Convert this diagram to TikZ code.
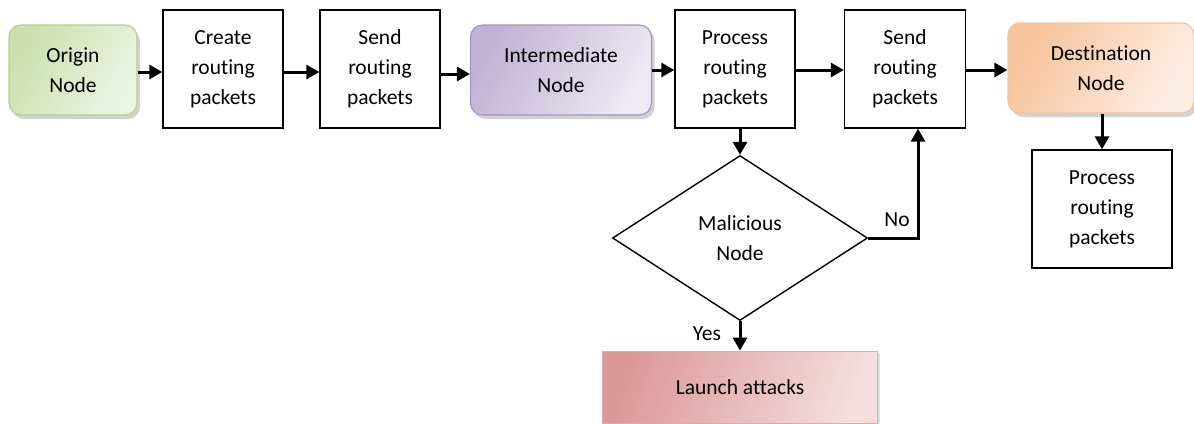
\documentclass[tikz,border=0pt]{standalone}
\usepackage{fontspec}
\setmainfont{Carlito}[Ligatures=NoCommon]
\usetikzlibrary{arrows.meta,shapes.geometric,shadows}
\begin{document}
\begin{tikzpicture}[x=1pt,y=-1pt,
  every node/.style={font=\fontsize{21.5}{30}\selectfont, align=center, inner sep=0pt},
  box/.style={draw=black, line width=1.4pt, minimum width=120pt, minimum height=118pt},
  rbox/.style={rounded corners=12pt, line width=1.2pt, minimum height=90pt,
    drop shadow={shadow xshift=3pt, shadow yshift=-4pt, fill=black!35, opacity=0.5}},
  arr/.style={line width=3pt, -{Triangle[length=13pt,width=14pt]}},
  lbl/.style={font=\fontsize{21.5}{24}\selectfont}]
\useasboundingbox (0,0) rectangle (1194,423);
\node[rbox, minimum width=128pt, draw={rgb,255:red,182;green,206;blue,146},
  left color={rgb,255:red,204;green,224;blue,172}, right color={rgb,255:red,236;green,244;blue,228}, shading angle=60]
  (orig) at (73,70) {Origin\\Node};
\node[box] (create) at (223,69) {Create\\routing\\packets};
\node[box] (send1) at (380,69) {Send\\routing\\packets};
\node[rbox, minimum width=181pt, draw={rgb,255:red,166;green,148;blue,194},
  left color={rgb,255:red,192;green,178;blue,212}, right color={rgb,255:red,238;green,233;blue,243}, shading angle=60]
  (inter) at (561,70) {Intermediate\\Node};
\node[box] (proc) at (735,69) {Process\\routing\\packets};
\node[box, minimum width=121pt] (send2) at (905,69) {Send\\routing\\packets};
\node[rbox, minimum width=186pt, draw={rgb,255:red,242;green,196;blue,160},
  left color={rgb,255:red,248;green,196;blue,156}, right color={rgb,255:red,253;green,238;blue,228}, shading angle=60]
  (dest) at (1101,68) {Destination\\Node};
\node[box, minimum width=140pt] (proc2) at (1102,209) {Process\\routing\\packets};
\node[draw=black, line width=1.4pt, diamond, aspect=1.55, minimum width=255pt, minimum height=165pt]
  (mal) at (740,238) {Malicious\\Node};
\node[minimum width=275pt, minimum height=72pt, draw={rgb,255:red,226;green,168;blue,168}, line width=0.8pt,
  left color={rgb,255:red,220;green,152;blue,152}, right color={rgb,255:red,244;green,222;blue,222}, shading angle=70,
  drop shadow={shadow xshift=2pt, shadow yshift=-2pt, fill=black!30, opacity=0.4}]
  (launch) at (740,387) {Launch attacks};
\draw[arr] (orig.east |- 0,72) -- (create.west |- 0,72);
\draw[arr] (create.east |- 0,72) -- (send1.west |- 0,72);
\draw[arr] (send1.east |- 0,74) -- (inter.west |- 0,74);
\draw[arr] (inter.east |- 0,70) -- (proc.west |- 0,70);
\draw[arr] (proc.east |- 0,70) -- (send2.west |- 0,70);
\draw[arr] (send2.east |- 0,70) -- (dest.west |- 0,70);
\draw[arr] (dest.south -| proc2) -- (proc2.north);
\draw[arr] (proc.south -| mal) -- (mal.north);
\draw[arr] (mal.south) -- (launch.north);
\coordinate (corner) at (918,238);
\draw[arr] (mal.east) -- (corner) -- (send2.south -| corner);
\node[lbl] (yes) at (707,334) {Yes};
\node[lbl] (no) at (897,220) {No};
\end{tikzpicture}
\end{document}
